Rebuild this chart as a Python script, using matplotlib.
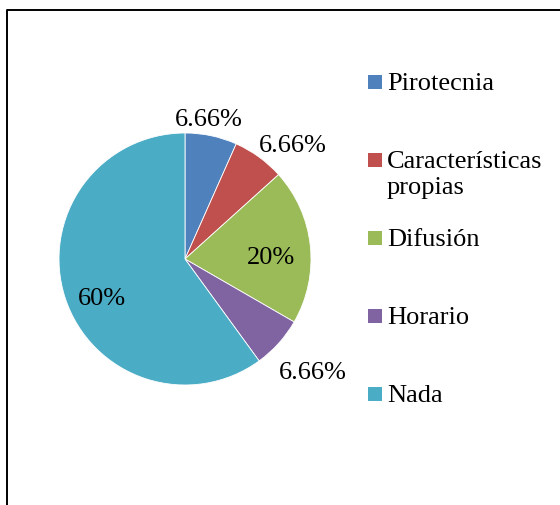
import numpy as np
import matplotlib
matplotlib.use("Agg")
import matplotlib.pyplot as plt
from matplotlib.patches import Rectangle
from matplotlib.lines import Line2D

plt.rcParams['font.family'] = ['Liberation Serif', 'DejaVu Serif']

# data
categories = ["Pirotecnia", "Características\npropias", "Difusión", "Horario", "Nada"]
values = [6.66, 6.66, 20, 6.66, 60]
value_labels = ["6.66%", "6.66%", "20%", "6.66%", "60%"]
colors = ["#4F81BD", "#C0504D", "#9BBB59", "#8064A2", "#4BACC6"]

# label placement (radius factor, angle shift in degrees)
lab_dist = [1.14, 1.26, 0.68, 1.34, 0.72]
lab_shift = [2.5, -7, -3.5, 1.0, 6.0]

W, H = 560, 506
fig = plt.figure(figsize=(W / 100, H / 100), dpi=100)
ax = fig.add_axes([0, 0, 1, 1])

cx, cy, R = 185, H - 260, 126
wedges, _ = ax.pie(values, colors=colors, startangle=90, counterclock=False,
                   center=(cx, cy), radius=R,
                   wedgeprops=dict(edgecolor="white", linewidth=0.6))
ax.set_xlim(0, W)
ax.set_ylim(0, H)
ax.set_aspect("equal")
ax.axis("off")

for w, txt, d, s in zip(wedges, value_labels, lab_dist, lab_shift):
    mid = np.deg2rad((w.theta1 + w.theta2) / 2 + s)
    ax.text(cx + R * d * np.cos(mid), cy + R * d * np.sin(mid) - 2, txt,
            ha="center", va="center", fontsize=19)

# legend, drawn by hand so the markers line up with the first text line
leg_top = 82.5
leg_step = 78
sq = 14
for i, (name, col) in enumerate(zip(categories, colors)):
    yc = H - (leg_top + i * leg_step)
    ax.add_patch(Rectangle((368, yc - sq / 2), sq, sq, facecolor=col,
                           edgecolor="none", clip_on=False))
    ax.text(387, yc + 9.5, name, ha="left", va="top", fontsize=19,
            linespacing=1.22)

# outer frame (only top and left edges show)
fig.add_artist(Line2D([7 / W, 7 / W, 1.0], [0.0, 1 - 11 / H, 1 - 11 / H],
                      transform=fig.transFigure, color="black", linewidth=1.4))

fig.savefig("out.png", dpi=100)
